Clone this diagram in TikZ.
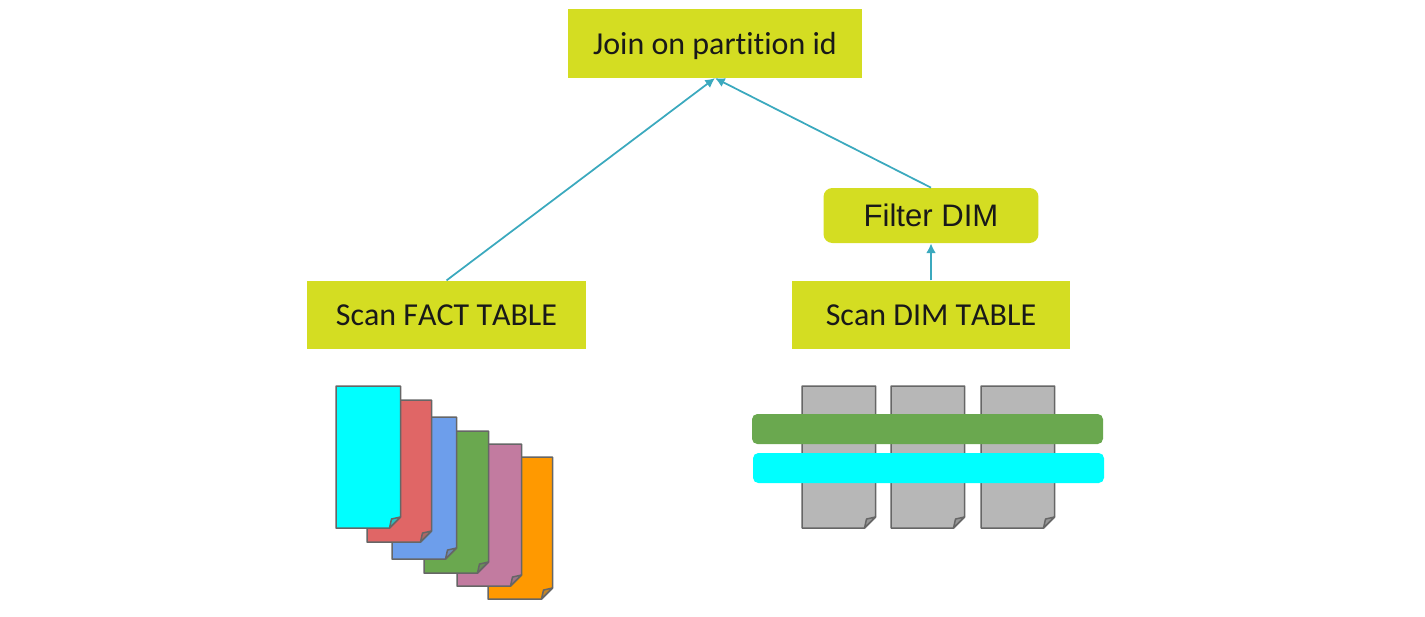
\documentclass[tikz,border=0pt]{standalone}
\usepackage{fontspec}
\setmainfont[Ligatures=NoCommon,Kerning=Off]{Carlito}
\newfontfamily\arialfont{Liberation Sans}
\usetikzlibrary{arrows.meta}
\definecolor{boxlime}{HTML}{D4DD22}
\definecolor{linkteal}{HTML}{3BA9BE}
\definecolor{sheetline}{HTML}{666666}
\definecolor{sheetcyan}{HTML}{00FFFF}
\definecolor{sheetred}{HTML}{E06666}
\definecolor{sheetblue}{HTML}{6D9EEB}
\definecolor{sheetgreen}{HTML}{6AA84F}
\definecolor{sheetpink}{HTML}{C27BA0}
\definecolor{sheetorange}{HTML}{FF9900}
\definecolor{sheetgrey}{HTML}{B7B7B7}
\tikzset{
    opbox/.style={fill=boxlime, minimum height=1.37cm, inner sep=0pt, text=black!90,
        text height=15pt, text depth=3pt, font=\fontsize{18.2}{22}\selectfont},
    link/.style={draw=linkteal, line width=1pt, -{Latex[length=5.5pt,width=5.5pt]}},
    sheet/.style={draw=sheetline, line width=0.85pt, line join=round},
    bar/.style={rounded corners=3pt}
}
% #1 left, #2 top, #3 width, #4 colour
\newcommand{\sheetat}[4]{
    \draw[sheet, fill=#4] (#1,#2) -- ++(#3,0) -- ++(0,131) -- ++(-11,11) -- ++(-#3+11,0) -- cycle;
    \draw[sheet, fill=#4!60!sheetline] (#1+#3,#2+131) -- ++(-11,11) -- ++(2,-9) -- cycle;
}

\begin{document}
\begin{tikzpicture}[x=0.02cm, y=-0.02cm]
    \useasboundingbox (0,0) rectangle (1425,616);

    \node[opbox, minimum width=5.88cm] (join) at (715,43.5) {Join on partition id};
    \node[opbox, minimum width=5.58cm] (scanfact) at (446.5,315) {Scan FACT TABLE};
    \node[opbox, minimum width=5.56cm] (scandim) at (931,315) {Scan DIM TABLE};
    \node[opbox, minimum width=4.3cm, minimum height=1.1cm, rounded corners=5pt, text height=16pt,
        font=\arialfont\fontsize{17.7}{22}\selectfont] (filterdim) at (931,215.5) {Filter DIM};

    \draw[link] (scanfact.north) -- (join.south);
    \draw[link] (filterdim.north) -- (join.south);
    \draw[link] (scandim.north) -- (filterdim.south);

    % fact table files, back to front
    \foreach \fx/\fy/\fc in {488/457/sheetorange, 457/444/sheetpink, 424/431/sheetgreen,
        392/417/sheetblue, 367/400/sheetred, 336/386/sheetcyan} {
        \sheetat{\fx}{\fy}{64.5}{\fc}
    }

    % dim table files and the two rows
    \foreach \fx in {802,891,981} {
        \sheetat{\fx}{386}{73.5}{sheetgrey}
    }
    \fill[bar, sheetgreen] (752,414) rectangle (1103,444);
    \fill[bar, sheetcyan] (753,453) rectangle (1104,483);
\end{tikzpicture}
\end{document}
